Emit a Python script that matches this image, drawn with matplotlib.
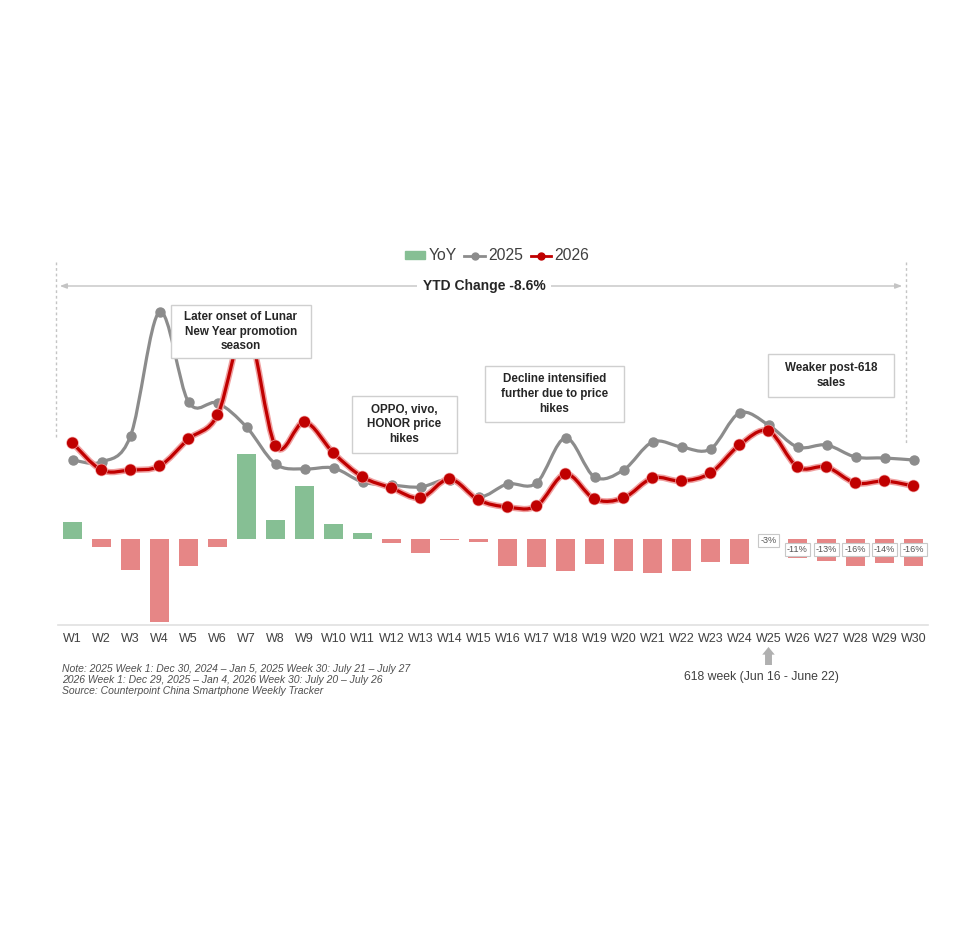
import matplotlib
matplotlib.use('Agg')
import matplotlib.pyplot as plt
import matplotlib.patheffects as pe
from matplotlib.path import Path
from matplotlib.patches import PathPatch, Rectangle, Patch
from matplotlib.lines import Line2D

plt.rcParams['font.family'] = ['Liberation Sans', 'DejaVu Sans']

weeks = ['W%d' % i for i in range(1, 31)]
# weekly sales index (relative units)
sales_2025 = [165, 163, 189, 313, 223, 222, 198, 161, 156, 157,
              143, 140, 138, 145, 128, 141, 142, 187, 148, 155,
              183, 178, 176, 212, 200, 178, 180, 168, 167, 165]
sales_2026 = [182, 155, 155, 159, 186, 210, 297, 179, 203, 172,
              148, 137, 127, 146, 125, 118, 119, 151, 126, 127,
              147, 144, 152, 180, 194, 158, 158, 142, 144, 139]
yoy = [10, -5, -18, -49, -16, -5, 50, 11, 31, 9,
       3.5, -2.5, -8, -0.4, -2, -16, -16.5, -19, -15, -19,
       -20, -19, -13.5, -15, -3, -11, -13, -16, -14, -16]
label_weeks = ['W25', 'W26', 'W27', 'W28', 'W29', 'W30']
label_texts = ['-3%', '-11%', '-13%', '-16%', '-14%', '-16%']

GREEN = '#86bf94'
PINK = '#e68686'
GRAY = '#8c8c8c'
RED = '#c00000'

W, H = 974, 948


def P(x, y):
    # pixel (from top-left) -> figure fraction
    return x / W, 1 - y / H


fig = plt.figure(figsize=(W / 100, H / 100), dpi=100)
fig.patch.set_facecolor('white')

ax = fig.add_axes([58 / W, 1 - 625 / H, 870 / W, 325 / H])
ax.patch.set_alpha(0)
x = list(range(len(weeks)))

cols = [GREEN if v >= 0 else PINK for v in yoy]
ax.bar(x, yoy, width=0.67, color=cols, zorder=2)
ax.set_xlim(-0.5, len(weeks) - 0.5)
ax.set_ylim(-50.6, 140.6)
ax.set_xticks(x)
ax.set_xticklabels(weeks, fontsize=9, color='#404040')
ax.tick_params(axis='x', length=0, pad=6)
ax.set_yticks([])
for s in ['top', 'left', 'right']:
    ax.spines[s].set_visible(False)
ax.spines['bottom'].set_color('#e0e0e0')
ax.spines['bottom'].set_linewidth(1.2)

for wk, t in zip(label_weeks, label_texts):
    i = weeks.index(wk)
    dy = -1 if wk == 'W25' else -7.5
    ax.annotate(t, xy=(i, 0), xytext=(0, dy), textcoords='offset points',
                ha='center', va='center', fontsize=6.6, color='#555555',
                bbox=dict(boxstyle='square,pad=0.25', fc='white', ec='#c8c8c8', lw=0.8),
                zorder=5)

ax2 = ax.twinx()
ax2.set_ylim(0, 325)
ax2.set_yticks([])
for s in ax2.spines.values():
    s.set_visible(False)


def smooth_path(xs, ys):
    verts = [(xs[0], ys[0])]
    codes = [Path.MOVETO]
    n = len(xs)
    for i in range(n - 1):
        x0, y0 = xs[max(i - 1, 0)], ys[max(i - 1, 0)]
        x1, y1 = xs[i], ys[i]
        x2, y2 = xs[i + 1], ys[i + 1]
        x3, y3 = xs[min(i + 2, n - 1)], ys[min(i + 2, n - 1)]
        c1 = (x1 + (x2 - x0) / 6, y1 + (y2 - y0) / 6)
        c2 = (x2 - (x3 - x1) / 6, y2 - (y3 - y1) / 6)
        verts += [c1, c2, (x2, y2)]
        codes += [Path.CURVE4] * 3
    return Path(verts, codes)


ax2.add_patch(PathPatch(smooth_path(x, sales_2025), fill=False, ec=GRAY, lw=2.3, zorder=3))
ax2.plot(x, sales_2025, 'o', color=GRAY, ms=6.5, zorder=4)
glow = [pe.Stroke(linewidth=4.5, foreground='#f0a0a0'), pe.Normal()]
ax2.add_patch(PathPatch(smooth_path(x, sales_2026), fill=False, ec=RED, lw=2.3, zorder=5,
                        path_effects=glow))
ax2.plot(x, sales_2026, 'o', color=RED, ms=7, zorder=6,
         path_effects=[pe.Stroke(linewidth=2, foreground='#f0a0a0'), pe.Normal()])

# legend
handles = [Patch(color=GREEN),
           Line2D([], [], color=GRAY, lw=2, marker='o', ms=5),
           Line2D([], [], color=RED, lw=2, marker='o', ms=5)]
fig.legend(handles, ['YoY', '2025', '2026'], loc='center', bbox_to_anchor=P(497, 256),
           ncol=3, frameon=False, fontsize=11.3, handlelength=1.3, handleheight=0.45,
           handletextpad=0.2, columnspacing=0.5, labelcolor='#404040')

# YTD range
line_c = '#c4c4c4'
fig.add_artist(Line2D(*zip(P(56, 262), P(56, 437)), transform=fig.transFigure,
                      color=line_c, lw=1, ls=(0, (2, 2))))
fig.add_artist(Line2D(*zip(P(906, 262), P(906, 443)), transform=fig.transFigure,
                      color=line_c, lw=1, ls=(0, (2, 2))))
ax.annotate('', xy=P(57, 286), xytext=P(905, 286), xycoords='figure fraction',
            textcoords='figure fraction',
            arrowprops=dict(arrowstyle='<|-|>,head_length=0.4,head_width=0.15',
                            color=line_c, lw=1))
fig.text(*P(484, 286), 'YTD Change -8.6%', ha='center', va='center', fontsize=10,
         fontweight='bold', color='#262626',
         bbox=dict(boxstyle='square,pad=0.4', fc='white', ec='none'))

# annotation boxes
notes = [
    ((171, 305, 311, 358), 'Later onset of Lunar\nNew Year promotion\nseason'),
    ((352, 396, 457, 453), 'OPPO, vivo,\nHONOR price\nhikes'),
    ((485, 366, 624, 422), 'Decline intensified\nfurther due to price\nhikes'),
    ((768, 354, 894, 397), 'Weaker post-618\nsales'),
]
for (x0, y0, x1, y1), txt in notes:
    fx0, fy1 = P(x0, y1)
    fx1, fy0 = P(x1, y0)
    fig.add_artist(Rectangle((fx0, fy1), fx1 - fx0, fy0 - fy1, transform=fig.transFigure,
                             fc='white', ec='#cfcfcf', lw=1, zorder=10))
    t = fig.text(*P((x0 + x1) / 2, (y0 + y1) / 2), txt, ha='center', va='center',
                 fontsize=8.4, fontweight='bold', color='#262626', linespacing=1.3)
    t.set_zorder(11)

# 618 week marker
ax.annotate('', xy=(weeks.index('W25'), H - 647), xytext=(weeks.index('W25'), H - 665),
            xycoords=('data', 'figure pixels'), textcoords=('data', 'figure pixels'),
            arrowprops=dict(arrowstyle='simple,head_width=0.9,head_length=0.55,tail_width=0.5',
                            color='#b0b0b0', lw=0, shrinkA=0, shrinkB=0))
fig.text(*P(761, 677), '618 week (Jun 16 - June 22)', ha='center', va='center',
         fontsize=8.8, color='#404040')

fig.text(*P(62, 664), 'Note: 2025 Week 1: Dec 30, 2024 \u2013 Jan 5, 2025 Week 30: July 21 \u2013 July 27\n'
         '2026 Week 1: Dec 29, 2025 \u2013 Jan 4, 2026 Week 30: July 20 \u2013 July 26\n'
         'Source: Counterpoint China Smartphone Weekly Tracker',
         ha='left', va='top', fontsize=7.5, style='italic', color='#505050',
         linespacing=1.12, transform=fig.transFigure)

fig.savefig('out.png', dpi=100)
